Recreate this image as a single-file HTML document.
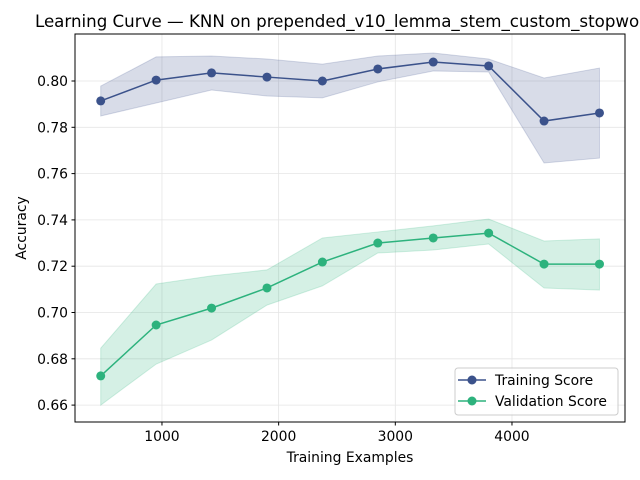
<!DOCTYPE html>
<html><head><meta charset="utf-8"><style>
html,body{margin:0;padding:0;background:#fff;overflow:hidden}
svg{display:block;font-family:"DejaVu Sans","Liberation Sans",sans-serif}
</style></head><body>
<svg id="chart" width="640" height="480" viewBox="0 0 640 480">
<rect width="640" height="480" fill="#fff"/>
<g id="grid"></g>
<g id="bands"></g>
<g id="lines"></g>
<rect x="75" y="34" width="550" height="388" fill="none" stroke="#000" stroke-width="1"/>
<g id="xticks"></g>
<g id="yticks"></g>
<text x="350" y="27" font-size="16.67" text-anchor="middle">Learning Curve — KNN on prepended_v10_lemma_stem_custom_stopwords</text>
<text x="350" y="462" font-size="13.9" text-anchor="middle">Training Examples</text>
<text transform="translate(26,228) rotate(-90)" font-size="13.9" text-anchor="middle">Accuracy</text>
<g>
<rect x="455" y="368" width="163" height="47" rx="3" fill="#fff" fill-opacity="0.8" stroke="#ccc"/>
<g>
<line x1="458" y1="380" x2="486" y2="380" stroke="#3b528b" stroke-width="1.5"/>
<circle cx="472" cy="380" r="4.5" fill="#3b528b"/>
<text x="495" y="385" font-size="13.9">Training Score</text></g>
<g>
<line x1="458" y1="401" x2="486" y2="401" stroke="#2db27d" stroke-width="1.5"/>
<circle cx="472" cy="401" r="4.5" fill="#2db27d"/>
<text x="495" y="406" font-size="13.9">Validation Score</text></g>
</g>
</svg>
<script>
const trainSizes=[475,950,1425,1900,2375,2850,3325,3800,4275,4750];
const trainMean=[0.7914,0.8004,0.8035,0.8017,0.8000,0.8052,0.8082,0.8065,0.7827,0.7862];
const trainUpper=[0.7978,0.8104,0.8108,0.8095,0.8073,0.8108,0.8121,0.8095,0.8013,0.8056];
const trainLower=[0.7849,0.7905,0.7961,0.7935,0.7927,0.7996,0.8043,0.8039,0.7646,0.7667];
const valMean=[0.6726,0.6946,0.7019,0.7106,0.7218,0.7300,0.7322,0.7343,0.7209,0.7209];
const valUpper=[0.6846,0.7123,0.7158,0.7184,0.7322,0.7348,0.7374,0.7404,0.7309,0.7318];
const valLower=[0.6600,0.6777,0.6881,0.7032,0.7115,0.7257,0.7270,0.7296,0.7106,0.7097];
const xTicks=[1000,2000,3000,4000];
const yTicks=[0.66,0.68,0.70,0.72,0.74,0.76,0.78,0.80];
const NS="http://www.w3.org/2000/svg";
function X(v){return 45.3+v*0.11667;}
function Y(v){return 81-(v-0.80)*2315;}
function mk(tag,attrs,parent){const e=document.createElementNS(NS,tag);for(const k in attrs)e.setAttribute(k,attrs[k]);parent.appendChild(e);return e;}
const grid=document.getElementById('grid'),xt=document.getElementById('xticks'),yt=document.getElementById('yticks');
xTicks.forEach(t=>{const x=X(t);
 const g=mk('line',{x1:x,x2:x,y1:34,y2:422,stroke:'#e5e5e5','stroke-width':0.8},grid);
 
 
 mk('line',{x1:x,x2:x,y1:422,y2:425.5,stroke:'#000'},xt);
 const tx=mk('text',{x:x,y:441,'font-size':13.9,'text-anchor':'middle'},xt);tx.textContent=t;
 
 
});
yTicks.forEach(t=>{const y=Y(t);
 const g=mk('line',{x1:75,x2:625,y1:y,y2:y,stroke:'#e5e5e5','stroke-width':0.8},grid);
 
 
 mk('line',{x1:71.5,x2:75,y1:y,y2:y,stroke:'#000'},yt);
 const tx=mk('text',{x:68,y:y+5,'font-size':13.9,'text-anchor':'end'},yt);tx.textContent=t.toFixed(2);
 
 
});
function band(up,lo,color,name){
 let pts=trainSizes.map((s,i)=>X(s)+','+Y(up[i]));
 pts=pts.concat(trainSizes.map((s,i)=>X(s)+','+Y(lo[i])).reverse());
 const p=mk('polygon',{points:pts.join(' '),fill:color,'fill-opacity':0.2,stroke:color,'stroke-opacity':0.2},document.getElementById('bands'));
 
 
}
function series(m,color,name){
 const L=document.getElementById('lines');
 const pl=mk('polyline',{points:trainSizes.map((s,i)=>X(s)+','+Y(m[i])).join(' '),fill:'none',stroke:color,'stroke-width':1.5},L);
 
 
 trainSizes.forEach((s,i)=>{const c=mk('circle',{cx:X(s),cy:Y(m[i]),r:4.5,fill:color},L);
  
  });
}
band(trainUpper,trainLower,'#3b528b','training-band');
band(valUpper,valLower,'#2db27d','validation-band');
series(trainMean,'#3b528b','training');
series(valMean,'#2db27d','validation');
</script>
</body></html>
